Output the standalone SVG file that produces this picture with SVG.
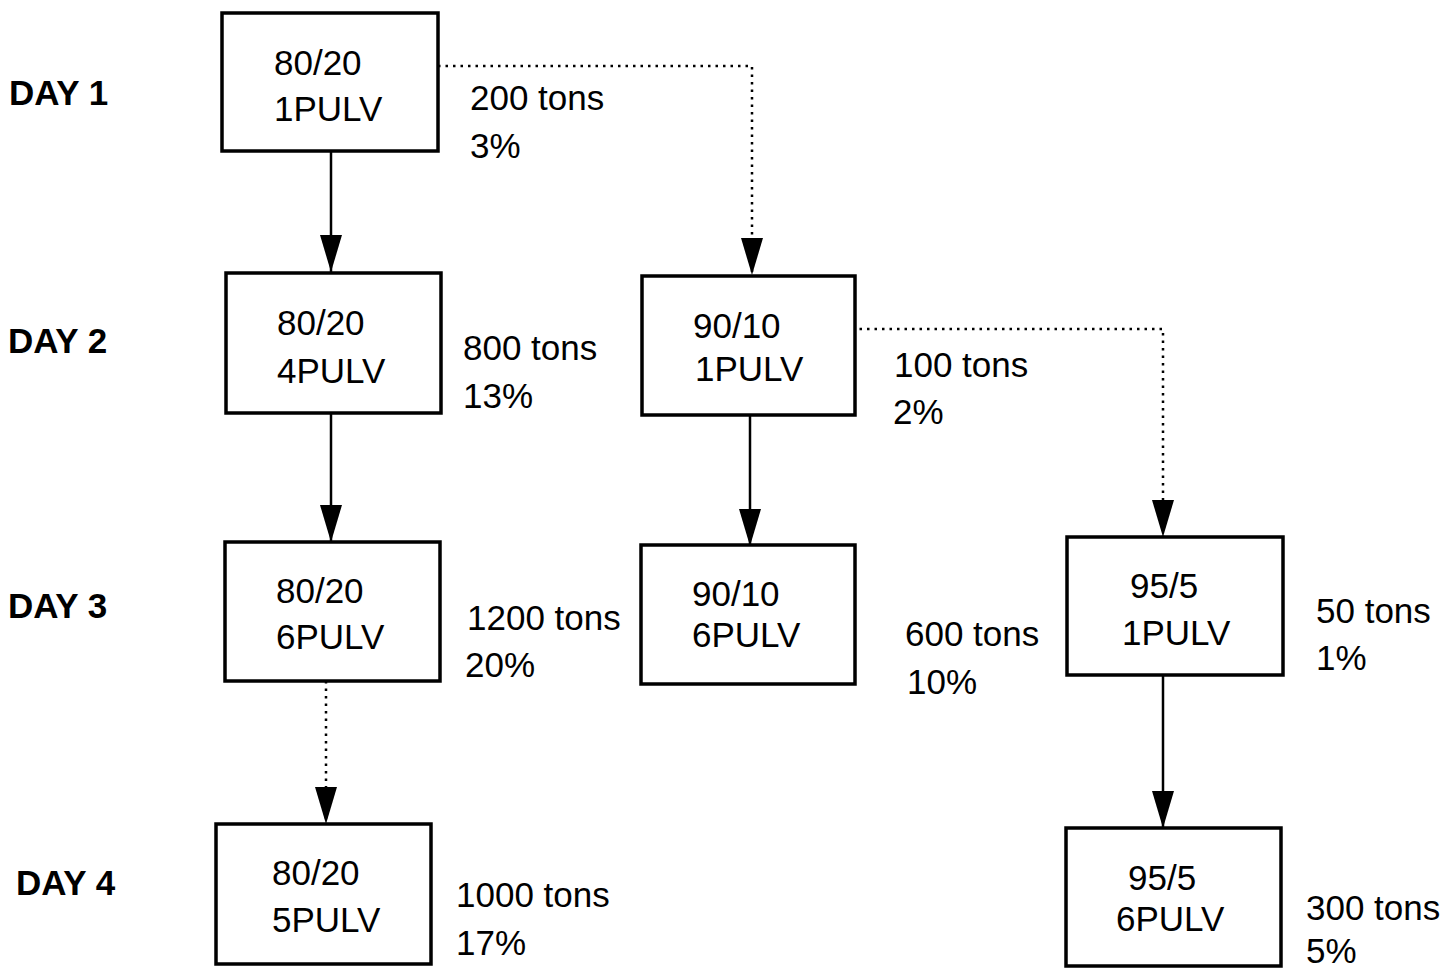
<svg xmlns="http://www.w3.org/2000/svg" width="1444" height="968" viewBox="0 0 1444 968">
<style>
.box{fill:#fff;stroke:#000;stroke-width:3.5}
.t{font-family:"Liberation Sans",Arial,sans-serif;font-size:35px;fill:#000}
.day{font-family:"Liberation Sans",Arial,sans-serif;font-size:35px;font-weight:bold;fill:#000}
.solid{fill:none;stroke:#000;stroke-width:2.5}
.dot{fill:none;stroke:#000;stroke-width:2.5;stroke-dasharray:2.5 5}
</style>
<defs>
<marker id="arr" markerUnits="userSpaceOnUse" markerWidth="38" markerHeight="24" viewBox="0 0 38 24" refX="37" refY="12" orient="auto">
<path d="M0,1 L37,12 L0,23 Z" fill="#000"/>
</marker>
</defs>
<rect width="1444" height="968" fill="#fff"/>
<g id="days">
<text class="day" x="9" y="105">DAY 1</text>
<text class="day" x="8" y="353">DAY 2</text>
<text class="day" x="8" y="618">DAY 3</text>
<text class="day" x="16" y="895">DAY 4</text>
</g>
<g id="connectors">
<line class="solid" x1="331" y1="151" x2="331" y2="272" marker-end="url(#arr)"/>
<polyline class="dot" points="438,66 752,66 752,275" marker-end="url(#arr)"/>
<line class="solid" x1="331" y1="413" x2="331" y2="542" marker-end="url(#arr)"/>
<line class="solid" x1="750" y1="415" x2="750" y2="546" marker-end="url(#arr)"/>
<polyline class="dot" points="852,329 1163,329 1163,537" marker-end="url(#arr)"/>
<line class="dot" x1="326" y1="681" x2="326" y2="824" marker-end="url(#arr)"/>
<line class="solid" x1="1163" y1="675" x2="1163" y2="828" marker-end="url(#arr)"/>
</g>
<g id="n1">
<rect class="box" x="222" y="13" width="216" height="138"/>
<text class="t" x="274" y="75">80/20</text>
<text class="t" x="274" y="121">1PULV</text>
<text class="t" x="470" y="110">200 tons</text>
<text class="t" x="470" y="158">3%</text>
</g>
<g id="n2">
<rect class="box" x="226" y="273" width="215" height="140"/>
<text class="t" x="277" y="335">80/20</text>
<text class="t" x="277" y="383">4PULV</text>
<text class="t" x="463" y="360">800 tons</text>
<text class="t" x="463" y="408">13%</text>
</g>
<g id="n3">
<rect class="box" x="642" y="276" width="213" height="139"/>
<text class="t" x="693" y="338">90/10</text>
<text class="t" x="695" y="381">1PULV</text>
<text class="t" x="894" y="377">100 tons</text>
<text class="t" x="893" y="424">2%</text>
</g>
<g id="n4">
<rect class="box" x="225" y="542" width="215" height="139"/>
<text class="t" x="276" y="603">80/20</text>
<text class="t" x="276" y="649">6PULV</text>
<text class="t" x="467" y="630">1200 tons</text>
<text class="t" x="465" y="677">20%</text>
</g>
<g id="n5">
<rect class="box" x="641" y="545" width="214" height="139"/>
<text class="t" x="692" y="606">90/10</text>
<text class="t" x="692" y="647">6PULV</text>
<text class="t" x="905" y="646">600 tons</text>
<text class="t" x="907" y="694">10%</text>
</g>
<g id="n6">
<rect class="box" x="1067" y="537" width="216" height="138"/>
<text class="t" x="1130" y="598">95/5</text>
<text class="t" x="1122" y="645">1PULV</text>
<text class="t" x="1316" y="623">50 tons</text>
<text class="t" x="1316" y="670">1%</text>
</g>
<g id="n7">
<rect class="box" x="216" y="824" width="215" height="140"/>
<text class="t" x="272" y="885">80/20</text>
<text class="t" x="272" y="932">5PULV</text>
<text class="t" x="456" y="907">1000 tons</text>
<text class="t" x="456" y="955">17%</text>
</g>
<g id="n8">
<rect class="box" x="1066" y="828" width="215" height="138"/>
<text class="t" x="1128" y="890">95/5</text>
<text class="t" x="1116" y="931">6PULV</text>
<text class="t" x="1306" y="920">300 tons</text>
<text class="t" x="1306" y="963">5%</text>
</g>
</svg>
